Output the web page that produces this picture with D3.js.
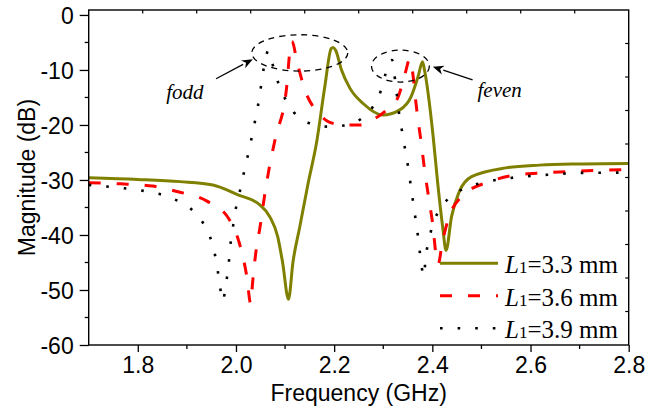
<!DOCTYPE html>
<html>
<head>
<meta charset="utf-8">
<script src="https://cdn.jsdelivr.net/npm/d3@7"></script>
<style>
  body { margin: 0; background: #fff; }
  svg { display: block; }
</style>
</head>
<body>
<div id="chart"></div>
<script>
// L1 = 3.3 mm (olive, solid)
const freq33 = [1.70, 1.80, 1.886, 1.953, 2.004, 2.048, 2.069, 2.085, 2.095, 2.107, 2.116, 2.130, 2.147, 2.164, 2.181, 2.194, 2.198, 2.203, 2.215, 2.232, 2.259, 2.299, 2.333, 2.357, 2.371, 2.380, 2.384, 2.401, 2.411, 2.421, 2.428, 2.439, 2.455, 2.480, 2.550, 2.618, 2.685, 2.800];
const mag33  = [-29.6, -29.9, -30.3, -30.9, -32.7, -34.5, -36.7, -40.3, -45.0, -51.7, -45.0, -38.5, -30.6, -23.3, -13.0, -6.1, -5.9, -6.4, -10.0, -13.3, -16.1, -18.2, -17.3, -14.8, -11.2, -8.5, -10.0, -21.5, -30.6, -38.5, -42.8, -36.7, -32.1, -29.4, -27.8, -27.3, -27.1, -27.0];

// L1 = 3.6 mm (red, dashed)
const freq36 = [1.70, 1.765, 1.83, 1.88, 1.94, 1.985, 2.010, 2.022, 2.030, 2.034, 2.040, 2.050, 2.058, 2.068, 2.080, 2.103, 2.110, 2.114, 2.125, 2.142, 2.170, 2.190, 2.220, 2.255, 2.280, 2.310, 2.330, 2.345, 2.354, 2.360, 2.366, 2.370, 2.377, 2.384, 2.393, 2.401, 2.408, 2.412, 2.420, 2.433, 2.460, 2.520, 2.570, 2.630, 2.690, 2.750, 2.800];
const mag36  = [-30.5, -30.7, -31.1, -32.1, -33.8, -37.0, -42.5, -47.5, -52.5, -48.5, -43.5, -38.0, -33.0, -27.7, -22.5, -13.3, -6.5, -4.8, -8.8, -14.0, -18.0, -19.5, -20.0, -20.0, -19.0, -17.0, -15.0, -10.5, -8.0, -10.5, -15.5, -18.5, -23.0, -28.0, -33.5, -38.2, -44.0, -45.3, -41.5, -37.0, -33.0, -30.2, -29.1, -28.7, -28.4, -28.2, -28.1];

// L1 = 3.9 mm (black, dotted)
const freq39 = [1.70, 1.737, 1.772, 1.806, 1.842, 1.874, 1.905, 1.930, 1.947, 1.957, 1.963, 1.968, 1.973, 1.980, 1.985, 1.988, 1.993, 1.998, 2.006, 2.013, 2.021, 2.029, 2.036, 2.043, 2.049, 2.054, 2.060, 2.066, 2.073, 2.086, 2.100, 2.118, 2.150, 2.187, 2.220, 2.253, 2.278, 2.295, 2.305, 2.312, 2.318, 2.325, 2.333, 2.339, 2.345, 2.351, 2.356, 2.361, 2.366, 2.371, 2.375, 2.380, 2.383, 2.386, 2.392, 2.400, 2.413, 2.434, 2.466, 2.502, 2.537, 2.572, 2.608, 2.643, 2.679, 2.713, 2.750, 2.800];
const mag39  = [-30.9, -31.2, -31.5, -31.9, -32.5, -33.5, -35.0, -37.4, -40.3, -43.5, -46.6, -49.7, -52.0, -48.6, -45.5, -42.3, -39.1, -36.0, -32.9, -29.9, -26.8, -23.6, -20.5, -17.4, -14.2, -11.1, -8.0, -6.5, -8.5, -12.3, -15.2, -17.7, -19.7, -20.3, -20.1, -19.0, -16.8, -13.8, -10.6, -8.5, -8.2, -12.5, -18.4, -21.5, -24.7, -27.8, -31.0, -34.1, -37.2, -40.4, -43.5, -46.7, -47.5, -44.4, -41.3, -38.4, -35.6, -33.3, -31.5, -30.5, -29.9, -29.5, -29.2, -29.0, -28.8, -28.7, -28.7, -28.6];

const seriesNames = ["3.3", "3.6", "3.9"];
const xTicks = [1.8, 2.0, 2.2, 2.4, 2.6, 2.8];
const yTicks = [0, -10, -20, -30, -40, -50, -60];

// annotation positions, in data units
const oddEllipse  = { f: 2.130, m: -6.9, rf: 0.0977, rm: 3.3 };
const evenEllipse = { f: 2.335, m: -9.3, rf: 0.059,  rm: 2.9 };
const oddArrow  = { from: [1.9594, -11.6], to: [2.0343, -8.05] };
const evenArrow = { from: [2.482, -11.8],  to: [2.401, -9.4] };
const oddLabel  = [1.858, -15.3];
const evenLabel = [2.492, -14.9];

const width = 661, height = 411;
const margin = { top: 10, right: 32.3, bottom: 66, left: 88.7 };

const svg = d3.select("#chart").append("svg")
    .attr("width", width)
    .attr("height", height);

const x = d3.scaleLinear().domain([1.7, 2.8]).range([margin.left, width - margin.right]);
const y = d3.scaleLinear().domain([-60, 0.9]).range([height - margin.bottom, margin.top]);

const sans = "Arial, 'Liberation Sans', sans-serif";
const serif = "'Times New Roman', 'Liberation Serif', serif";

// Curves
const series = [
    { f: freq33, m: mag33, color: "#808000", width: 3, dash: null },
    { f: freq36, m: mag36, color: "#ff0000", width: 3, dash: "12 16" },
    { f: freq39, m: mag39, color: "#000000", width: 2.6, dash: "2.6 15" }
];

const line = d3.line()
    .x(d => x(d[0]))
    .y(d => y(d[1]))
    .curve(d3.curveMonotoneX);

const plot = svg.append("g");
plot.append("defs").append("clipPath").attr("id", "clip")
    .append("rect")
    .attr("x", margin.left).attr("y", margin.top)
    .attr("width", width - margin.left - margin.right)
    .attr("height", height - margin.top - margin.bottom);

series.forEach(s => {
    plot.append("path")
        .datum(s.f.map((f, i) => [f, s.m[i]]))
        .attr("clip-path", "url(#clip)")
        .attr("fill", "none")
        .attr("stroke", s.color)
        .attr("stroke-width", s.width)
        .attr("stroke-dasharray", s.dash)
        .attr("stroke-linejoin", "round")
        .attr("d", line);
});

// Axes
const xAxis = d3.axisBottom(x).tickValues(xTicks).tickSize(7).tickPadding(5)
    .tickFormat(d => d.toFixed(1));
const gx = svg.append("g")
    .attr("transform", `translate(0,${height - margin.bottom})`)
    .call(xAxis);

const yAxis = d3.axisLeft(y).tickValues(yTicks).tickSize(9).tickPadding(6)
    .tickFormat(d => String(d));
const gy = svg.append("g")
    .attr("transform", `translate(${margin.left},0)`)
    .call(yAxis);

[gx, gy].forEach(g => {
    g.select(".domain").remove();
    g.selectAll("line").attr("stroke", "#000").attr("stroke-width", 1.3);
    g.selectAll("text")
        .attr("fill", "#000")
        .style("font-family", sans)
        .style("font-size", "23px");
});
gy.selectAll("text").attr("dy", "0.36em");

// minor ticks
const xMinor = d3.range(1.9, 2.75, 0.2);
svg.append("g").selectAll("line").data(xMinor).join("line")
    .attr("x1", d => x(d)).attr("x2", d => x(d))
    .attr("y1", height - margin.bottom).attr("y2", height - margin.bottom + 4)
    .attr("stroke", "#000").attr("stroke-width", 1.3);

const yMinor = d3.range(-55, 0, 10);
svg.append("g").selectAll("line").data(yMinor).join("line")
    .attr("x1", margin.left - 4).attr("x2", margin.left)
    .attr("y1", d => y(d)).attr("y2", d => y(d))
    .attr("stroke", "#000").attr("stroke-width", 1.3);

// top / right inward ticks (10 divisions each)
const topTicks = d3.range(1, 10).map(i => 1.7 + i * 0.11);
svg.append("g").selectAll("line").data(topTicks).join("line")
    .attr("x1", d => x(d)).attr("x2", d => x(d))
    .attr("y1", margin.top).attr("y2", margin.top + 3.5)
    .attr("stroke", "#000").attr("stroke-width", 1.2);

const rightTicks = d3.range(1, 10).map(i => -60 + i * 6.09);
svg.append("g").selectAll("line").data(rightTicks).join("line")
    .attr("x1", width - margin.right - 3.5).attr("x2", width - margin.right)
    .attr("y1", d => y(d)).attr("y2", d => y(d))
    .attr("stroke", "#000").attr("stroke-width", 1.2);

// frame
svg.append("rect")
    .attr("x", margin.left).attr("y", margin.top)
    .attr("width", width - margin.left - margin.right)
    .attr("height", height - margin.top - margin.bottom)
    .attr("fill", "none").attr("stroke", "#000").attr("stroke-width", 1.4);

// Axis titles
svg.append("text")
    .attr("x", (margin.left + width - margin.right) / 2)
    .attr("y", 401)
    .attr("text-anchor", "middle")
    .style("font-family", sans).style("font-size", "23px")
    .text("Frequency (GHz)");

svg.append("text")
    .attr("transform", `translate(35,${(margin.top + height - margin.bottom) / 2}) rotate(-90)`)
    .attr("text-anchor", "middle")
    .style("font-family", sans).style("font-size", "23px")
    .text("Magnitude (dB)");

// Ellipses around the resonances
[oddEllipse, evenEllipse].forEach(e => {
    svg.append("ellipse")
        .attr("cx", x(e.f)).attr("cy", y(e.m))
        .attr("rx", x(e.f + e.rf) - x(e.f))
        .attr("ry", y(e.m - e.rm) - y(e.m))
        .attr("fill", "none")
        .attr("stroke", "#000")
        .attr("stroke-width", 1.3)
        .attr("stroke-dasharray", "6 5");
});

// Arrows
function arrow(a) {
    const x1 = x(a.from[0]), y1 = y(a.from[1]);
    const x2 = x(a.to[0]), y2 = y(a.to[1]);
    const ang = Math.atan2(y2 - y1, x2 - x1);
    const len = 11, half = 4.5;
    const bx = x2 - len * Math.cos(ang), by = y2 - len * Math.sin(ang);
    svg.append("line")
        .attr("x1", x1).attr("y1", y1).attr("x2", bx).attr("y2", by)
        .attr("stroke", "#000").attr("stroke-width", 1.2);
    const pts = [
        [x2, y2],
        [bx + half * Math.sin(ang), by - half * Math.cos(ang)],
        [x2 - 0.7 * len * Math.cos(ang), y2 - 0.7 * len * Math.sin(ang)],
        [bx - half * Math.sin(ang), by + half * Math.cos(ang)]
    ];
    svg.append("polygon")
        .attr("points", pts.map(p => p.join(",")).join(" "))
        .attr("fill", "#000");
}
arrow(oddArrow);
arrow(evenArrow);

// f_odd / f_even labels
[[oddLabel, "odd"], [evenLabel, "even"]].forEach(([p, sub]) => {
    const t = svg.append("text")
        .attr("x", x(p[0])).attr("y", y(p[1]))
        .style("font-family", serif).style("font-style", "italic")
        .style("font-size", "21px");
    t.append("tspan").text("f");
    t.append("tspan").text(sub);
});

// Legend
const legend = svg.append("g");
series.forEach((s, i) => {
    const ly = 263.3 + i * 32.5;
    legend.append("line")
        .attr("x1", 440).attr("x2", 498)
        .attr("y1", ly).attr("y2", ly)
        .attr("stroke", s.color)
        .attr("stroke-width", s.width)
        .attr("stroke-dasharray", s.dash);
    const t = legend.append("text")
        .attr("x", 505).attr("y", ly + 10)
        .style("font-family", serif).style("font-size", "25px");
    t.append("tspan").style("font-style", "italic").text("L");
    t.append("tspan").style("font-size", "17px").text("1");
    t.append("tspan").text(`=${seriesNames[i]} mm`);
});
</script>
</body>
</html>
